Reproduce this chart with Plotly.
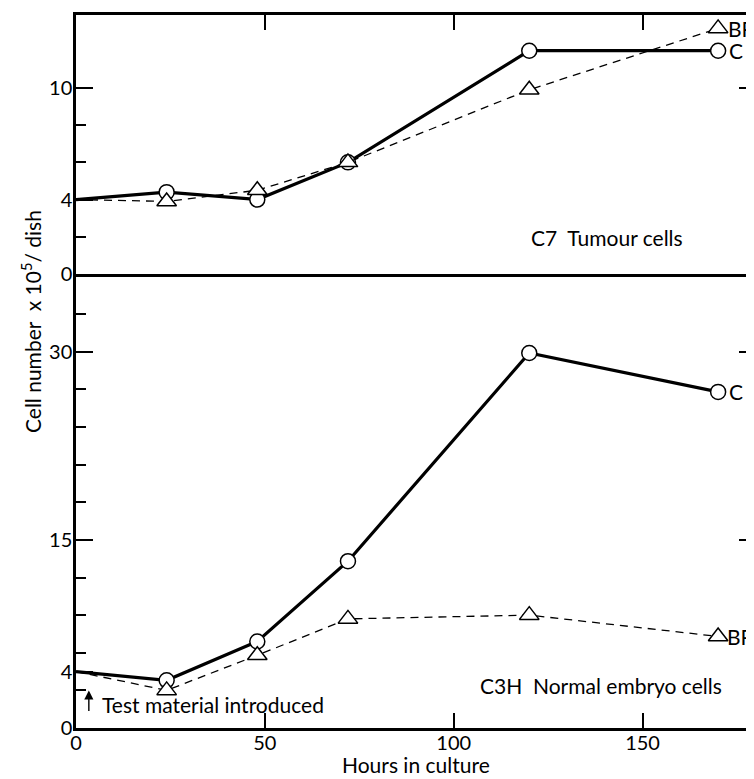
import plotly.graph_objects as go

# ---- data ----
hours = [0, 24, 48, 72, 120, 170]

# C7 tumour cells (top panel), cell number x 10^5 / dish
c7_control = [4.0, 4.4, 4.0, 6.0, 12.0, 12.0]
c7_bp = [4.0, 3.9, 4.5, 6.0, 9.9, 13.2]

# C3H normal embryo cells (bottom panel)
c3h_control = [4.5, 3.8, 6.9, 13.3, 29.9, 26.8]
c3h_bp = [4.5, 3.0, 5.8, 8.7, 9.0, 7.3]

x_tickvals = [0, 50, 100, 150]
x_ticktext = ["0", "50", "100", "150"]
top_tickvals = [0, 4, 10]
top_ticktext = ["0", "4", "10"]
top_minor = [2, 6, 8]
bot_tickvals = [0, 4.5, 15, 30]
bot_ticktext = ["0", "4", "15", "30"]
bot_minor = [3, 6, 9, 12, 18, 21, 24, 27, 33]

FONT = "Lato"
# the page body has an 8px margin, so the figure is 8px smaller than the window
W, H = 746, 771
ML, MR, MT, MB = 68, 0, 7, 51
PH = H - MT - MB
split = 1 - (266 - MT) / PH

fig = go.Figure()

line_c = dict(color="black", width=3.2)
line_bp = dict(color="black", width=1.3, dash="8px,6px")
mk_c = dict(symbol="circle", size=15, color="white", line=dict(color="black", width=1.5))
mk_bp = dict(symbol="triangle-up", size=17, color="white", line=dict(color="black", width=1.5))

def add_series(xv, yv, xa, ya, line, marker):
    # line from the start, markers from the first measurement
    fig.add_trace(go.Scatter(x=xv, y=yv, xaxis=xa, yaxis=ya, mode="lines",
                             line=line, hoverinfo="skip", showlegend=False))
    fig.add_trace(go.Scatter(x=xv[1:], y=yv[1:], xaxis=xa, yaxis=ya, mode="markers",
                             marker=marker, hoverinfo="skip", showlegend=False))

add_series(hours, c7_control, "x2", "y2", line_c, mk_c)
add_series(hours, c7_bp, "x2", "y2", line_bp, mk_bp)
add_series(hours, c3h_control, "x", "y", line_c, mk_c)
add_series(hours, c3h_bp, "x", "y", line_bp, mk_bp)

# invisible traces so the right-hand tick axes are drawn
fig.add_trace(go.Scatter(x=[None], y=[None], xaxis="x", yaxis="y3", showlegend=False))
fig.add_trace(go.Scatter(x=[None], y=[None], xaxis="x2", yaxis="y4", showlegend=False))

XR = [0, 179.5]
TOPR = [0, 13.92]
BOTR = [0, 36.2]
tickfont = dict(family=FONT, size=20, color="black")
axline = dict(showline=True, linecolor="black", linewidth=2.5, showgrid=False, zeroline=False)

fig.update_layout(
    width=W, height=H,
    margin=dict(l=ML, r=MR, t=MT, b=MB),
    plot_bgcolor="white", paper_bgcolor="white",
    font=dict(family=FONT, color="black"),
    xaxis=dict(domain=[0, 1], range=XR, anchor="y", tickmode="array",
               tickvals=x_tickvals, ticktext=x_ticktext, ticks="inside", ticklen=15,
               tickwidth=1.5, tickcolor="black", tickfont=tickfont, ticklabelstandoff=-5,
               **axline),
    yaxis=dict(domain=[0, split], range=BOTR, anchor="x", tickmode="array",
               tickvals=bot_tickvals, ticktext=bot_ticktext, ticks="inside", ticklen=17,
               tickwidth=1.5, tickcolor="black", tickfont=tickfont, ticklabelstandoff=-3,
               minor=dict(tickmode="array", tickvals=bot_minor, ticks="inside", ticklen=10,
                          tickwidth=1.5, tickcolor="black"), **axline),
    xaxis2=dict(domain=[0, 1], range=XR, anchor="y2", side="top", mirror=True,
                tickmode="array", tickvals=[50, 100, 150], showticklabels=False,
                ticks="inside", ticklen=15, tickwidth=1.5, tickcolor="black", **axline),
    yaxis2=dict(domain=[split, 1], range=TOPR, anchor="x2", tickmode="array",
                tickvals=top_tickvals, ticktext=top_ticktext, ticks="inside", ticklen=17,
                tickwidth=1.5, tickcolor="black", tickfont=tickfont, ticklabelstandoff=-3,
                minor=dict(tickmode="array", tickvals=top_minor, ticks="inside", ticklen=10,
                           tickwidth=1.5, tickcolor="black"), **axline),
    yaxis3=dict(overlaying="y", side="right", anchor="x", range=BOTR, tickmode="array",
                tickvals=[15, 30], showticklabels=False, ticks="inside", ticklen=15,
                tickwidth=1.5, tickcolor="black", showline=False, showgrid=False, zeroline=False),
    yaxis4=dict(overlaying="y2", side="right", anchor="x2", range=TOPR, tickmode="array",
                tickvals=[10], showticklabels=False, ticks="inside", ticklen=15,
                tickwidth=1.5, tickcolor="black", showline=False, showgrid=False, zeroline=False),
)

afont = dict(family=FONT, size=21, color="black")
ann = []
def lab(**kw):
    d = dict(showarrow=False, font=afont, xanchor="center", yanchor="middle")
    d.update(kw)
    ann.append(d)

# end labels
lab(x=hours[-1], y=c7_control[-1], xref="x2", yref="y2", text="C", xanchor="left", xshift=9)
lab(x=hours[-1], y=c7_bp[-1], xref="x2", yref="y2", text="BP", xanchor="left", xshift=8)
lab(x=hours[-1], y=c3h_control[-1], xref="x", yref="y", text="C", xanchor="left", xshift=9)
lab(x=hours[-1], y=c3h_bp[-1], xref="x", yref="y", text="BP", xanchor="left", xshift=7)
# panel labels
lab(x=140.7, y=1.94, xref="x2", yref="y2", text="C7  Tumour cells")
lab(x=138.9, y=3.35, xref="x", yref="y", text="C3H  Normal embryo cells")
# test material arrow
ann.append(dict(x=3.4, y=3.0, xref="x", yref="y", ax=0, ay=22, text="", showarrow=True,
                arrowhead=2, arrowsize=1.3, arrowwidth=1.4, arrowcolor="black"))
lab(x=6.3, y=1.84, xref="x", yref="y", text="Test material introduced", xanchor="left")
# axis titles
lab(x=0.501, y=0, xref="paper", yref="paper", yshift=-MB, yanchor="bottom",
    text="Hours in culture")
lab(x=0, y=(720 - 314) / PH, xref="paper", yref="paper", xshift=-45,
    text="Cell number  x 10<sup>5</sup>/ dish", textangle=-90)
fig.update_layout(annotations=ann)

fig.write_html("out.html")
